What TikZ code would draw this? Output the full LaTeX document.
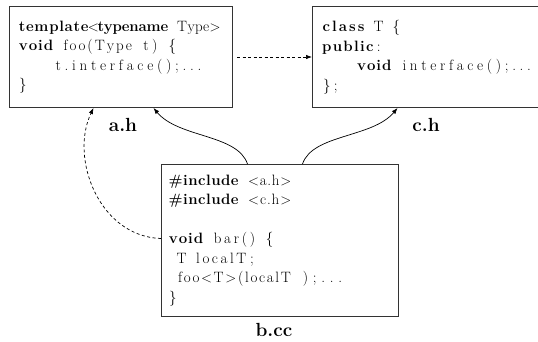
\documentclass[tikz,border=0pt]{standalone}
\usepackage{fontspec}
\usetikzlibrary{arrows.meta}

% fixed-column code typesetting: every character gets one column
\makeatletter
\newlength\cw \setlength\cw{8.8pt}
\newcount\fwn
\newlength\fwl
\newcommand\fw[1]{\leavevmode\fwn=0 \@tfor\fwc:=#1\do{\advance\fwn by 1 }%
  \fwl=\fwn\cw\hbox to\fwl{\@tfor\fwc:=#1\do{\hss\fwc\hss}}}
\makeatother
\newcommand\fb[1]{{\bfseries\fw{#1}}}
\newcommand\sk{\hspace*{\cw}}
\newcommand\lsym{$<$}
\newcommand\gsym{$>$}

\tikzset{
  codebox/.style={draw=black!80, line width=1pt, anchor=north west,
    align=left, font=\fontsize{15}{19.5}\selectfont},
  filelabel/.style={font=\fontsize{19}{22}\selectfont\bfseries, anchor=base},
  dep/.style={-{Latex[length=6pt,width=4.5pt]}, line width=0.7pt},
  use/.style={dep, dash pattern=on 3pt off 2.5pt},
}

\begin{document}
\begin{tikzpicture}[x=1pt, y=-1pt]
\useasboundingbox (0,0) rectangle (538,341);

\node[codebox, inner xsep=9pt, text width=205pt, minimum height=101pt] (a) at (9,6)
  {\fb{template}\fw{\lsym}\fb{typename}\sk\fw{Type\gsym}\\
   \fb{void}\sk\fw{foo(Type}\sk\fw{t)}\sk\fw{\{}\\
   \sk\sk\sk\sk\fw{t.interface();...}\\
   \fw{\}}};

\node[codebox, inner xsep=9pt, text width=215pt, minimum height=101pt] (c) at (312,6)
  {\fb{class}\sk\fw{T}\sk\fw{\{}\\
   \fb{public}\fw{:}\\
   \sk\sk\sk\sk\fb{void}\sk\fw{interface();...}\\
   \fw{\};}};

\node[codebox, inner xsep=7pt, text width=223pt, minimum height=152pt] (b) at (161,164)
  {\fb{\#include}\sk\fw{\lsym a.h\gsym}\\
   \fb{\#include}\sk\fw{\lsym c.h\gsym}\\[19.5pt]
   \fb{void}\sk\fw{bar()}\sk\fw{\{}\\
   \sk\fw{T}\sk\fw{localT}\fw{;}\\
   \sk\fw{foo\lsym T\gsym(localT}\sk\fw{);...}\\
   \fw{\}}};

\node[filelabel] (la) at (123,131) {a.h};
\node[filelabel] (lc) at (426,131) {c.h};
\node[filelabel] (lb) at (274,336) {b.cc};

% template use: a.h refers to the interface in c.h
\draw[use, shorten <=4pt] (a.east) -- (c.west);

% includes from b.cc
\draw[dep] ([xshift=-32.5pt]b.north) .. controls +(-10,-30) and +(25,30) .. ([xshift=32.5pt]a.south);
\draw[dep] ([xshift=22.5pt]b.north) .. controls +(10,-30) and +(-25,30) .. ([xshift=-31.5pt]c.south);

% instantiation of foo<T> in bar()
\draw[use] ([yshift=2pt]b.west) .. controls +(-62,-2) and +(-24,50) .. ([xshift=-27.5pt]a.south);
\end{tikzpicture}
\end{document}
